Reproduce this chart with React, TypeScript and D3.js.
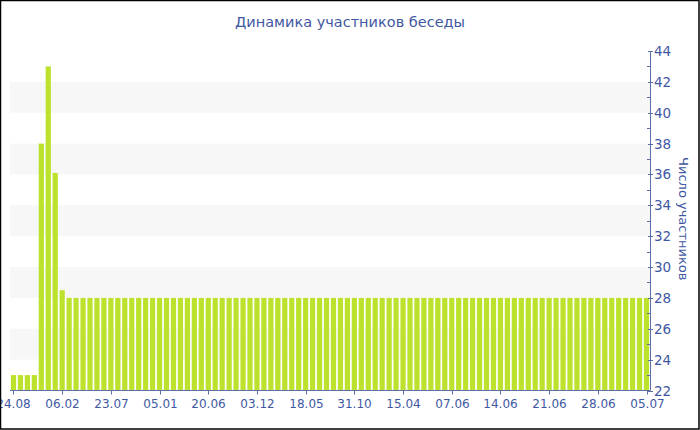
import React from "react";
import * as d3 from "d3";

const title = "Динамика участников беседы";
const yTitle = "Число участников";
const tickLabels = ["24.08", "06.02", "23.07", "05.01", "20.06", "03.12", "18.05", "31.10", "15.04", "07.06", "14.06", "21.06", "28.06", "05.07"];
const headValues = [23, 23, 23, 23, 38, 43, 36.1, 28.5];
const tailValues = [
  28, 28, 28, 28, 28, 28, 28, 28, 28, 28, 28, 28, 28, 28, 28, 28, 28, 28, 28, 28, 28,
  28, 28, 28, 28, 28, 28, 28, 28, 28, 28, 28, 28, 28, 28, 28, 28, 28, 28, 28, 28, 28,
  28, 28, 28, 28, 28, 28, 28, 28, 28, 28, 28, 28, 28, 28, 28, 28, 28, 28, 28, 28, 28,
  28, 28, 28, 28, 28, 28, 28, 28, 28, 28, 28, 28, 28, 28, 28, 28, 28, 28, 28, 28, 28,
];
const values = [...headValues, ...tailValues];
const yTicks = [22, 24, 26, 28, 30, 32, 34, 36, 38, 40, 42, 44];
const yMinor = [23, 25, 27, 29, 31, 33, 35, 37, 39, 41, 43];
const bands = [[24, 26], [28, 30], [32, 34], [36, 38], [40, 42]];

const W = 700, H = 430;
const left = 10, right = 650, top = 51, bottom = 390.5;
const axisColor = "#5b6ea8";
const textColor = "#3f58a2";
const font = "DejaVu Sans, Verdana, sans-serif";

export default function App() {
  const idx = values.map((_, i) => i);
  const x = d3.scaleBand<number>().domain(idx).range([left, right]).paddingInner(0.25).paddingOuter(0.125);
  const y = d3.scaleLinear().domain([22, 44]).range([bottom, top]);
  const step = 7;
  const tickIdx = tickLabels.map((_, i) => i * step);
  return (
    <div>
      <style>{"body{margin:0}"}</style>
      <svg width={W} height={H} style={{ display: "block" }} fontFamily={font}>
        <rect x={0} y={0} width={W} height={H} fill="#fff" />
        {bands.map(([a, b], i) => (
          <rect key={i} x={left} y={y(b)} width={right - left} height={y(a) - y(b)} fill="#f7f7f7" />
        ))}
        {values.map((v, i) => (
          <rect key={i} x={x(i)} y={y(v)} width={x.bandwidth()} height={y(22) - y(v)} fill="#bde22e" />
        ))}
        <line x1={left} x2={right} y1={bottom} y2={bottom} stroke={axisColor} />
        {tickIdx.map((ti, i) => {
          const cx = Math.round((x(ti) as number) + x.bandwidth() / 2) + 0.5;
          return (
            <g key={i}>
              <line x1={cx} x2={cx} y1={bottom} y2={bottom + 4} stroke={axisColor} />
              <text x={cx} y={bottom + 17} textAnchor="middle" fontSize={12} fill={textColor}>{tickLabels[i]}</text>
            </g>
          );
        })}
        <line x1={right + 0.5} x2={right + 0.5} y1={top} y2={bottom} stroke={axisColor} />
        {yTicks.map((t) => (
          <g key={t}>
            <line x1={right - 2} x2={right + 3} y1={Math.round(y(t)) + 0.5} y2={Math.round(y(t)) + 0.5} stroke={axisColor} />
            <text x={right + 4} y={y(t) + 5} fontSize={13.5} fill={textColor}>{t}</text>
          </g>
        ))}
        {yMinor.map((t) => (
          <line key={t} x1={right - 3} x2={right} y1={Math.round(y(t)) + 0.5} y2={Math.round(y(t)) + 0.5} stroke={axisColor} />
        ))}
        <text transform={`translate(679,${(top + bottom) / 2 - 2}) rotate(90)`} textAnchor="middle" fontSize={13} fill={textColor}>{yTitle}</text>
        <text x={W / 2} y={27} textAnchor="middle" fontSize={14.5} fill={textColor}>{title}</text>
        <rect x={0.5} y={0.5} width={W - 1.5} height={H - 1.5} fill="none" stroke="#000" strokeWidth={1.5} />
      </svg>
    </div>
  );
}
